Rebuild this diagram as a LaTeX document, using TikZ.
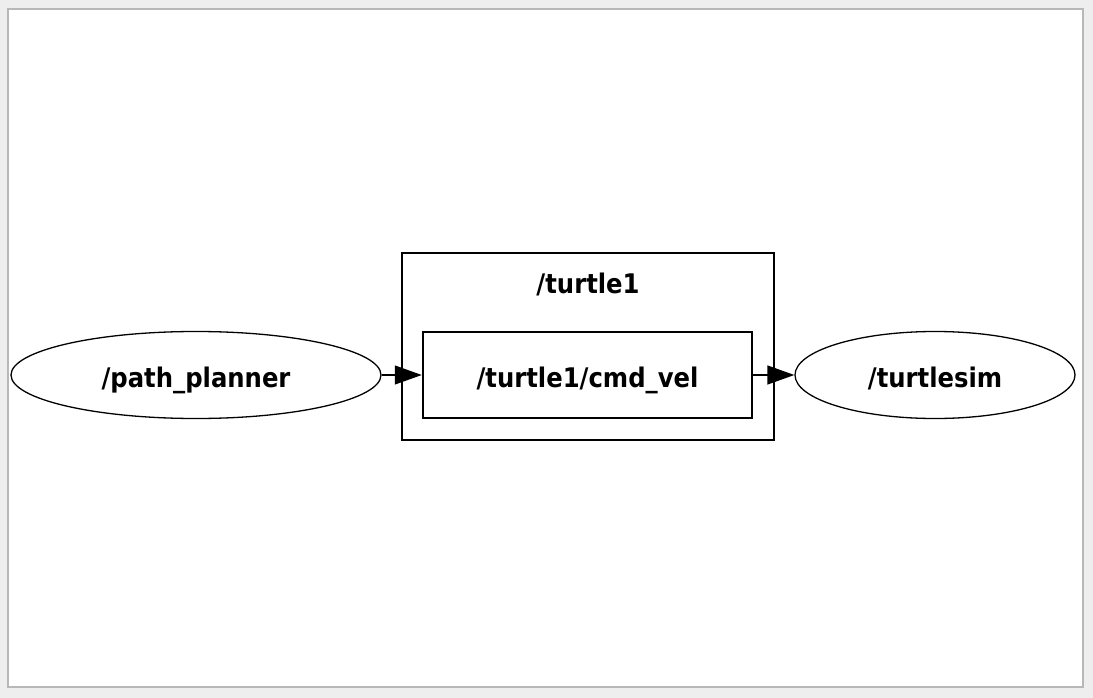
\documentclass[tikz,border=0pt]{standalone}
\usepackage{fontspec}
\setmainfont{DejaVu Sans Condensed}[BoldFont={DejaVu Sans Condensed Bold}]
\usetikzlibrary{shapes.geometric,arrows.meta}
\definecolor{outerbg}{HTML}{EEEEEE}
\definecolor{framegray}{HTML}{B8B8B8}
\begin{document}
\begin{tikzpicture}[x=1pt, y=-1pt,
  nodefont/.style={font=\fontsize{27}{31}\selectfont\bfseries, text height=24pt, text depth=0pt},
  rosnode/.style={ellipse, draw, line width=1.3pt, inner sep=0pt, nodefont},
  topic/.style={rectangle, draw, line width=2.5pt, inner sep=0pt, nodefont},
  arr/.style={line width=1.3pt, -{Triangle[length=27pt, width=19pt]}}]
\fill[outerbg] (0,0) rectangle (1093,698);
\useasboundingbox (0,0) rectangle (1093,698);
\draw[framegray, fill=white, line width=2pt] (8,9) rectangle (1083,687);
% cluster
\node[rectangle, draw, line width=2.5pt, minimum width=372pt, minimum height=187pt] (cl0) at (588,346.5){};
\node[nodefont] (cl0lbl) at (588,281){/turtle1};
% nodes and topic
\node[rosnode, minimum width=370pt, minimum height=87pt] (nid0) at (196,375){/path\_planner};
\node[topic, minimum width=329pt, minimum height=86pt] (tid0) at (587.5,375){/turtle1/cmd\_vel};
\node[rosnode, minimum width=280pt, minimum height=87pt] (nid1) at (935,375){/turtlesim};
\draw[arr](nid0) -- (tid0);
\draw[arr](tid0) -- (nid1);
\end{tikzpicture}
\end{document}
